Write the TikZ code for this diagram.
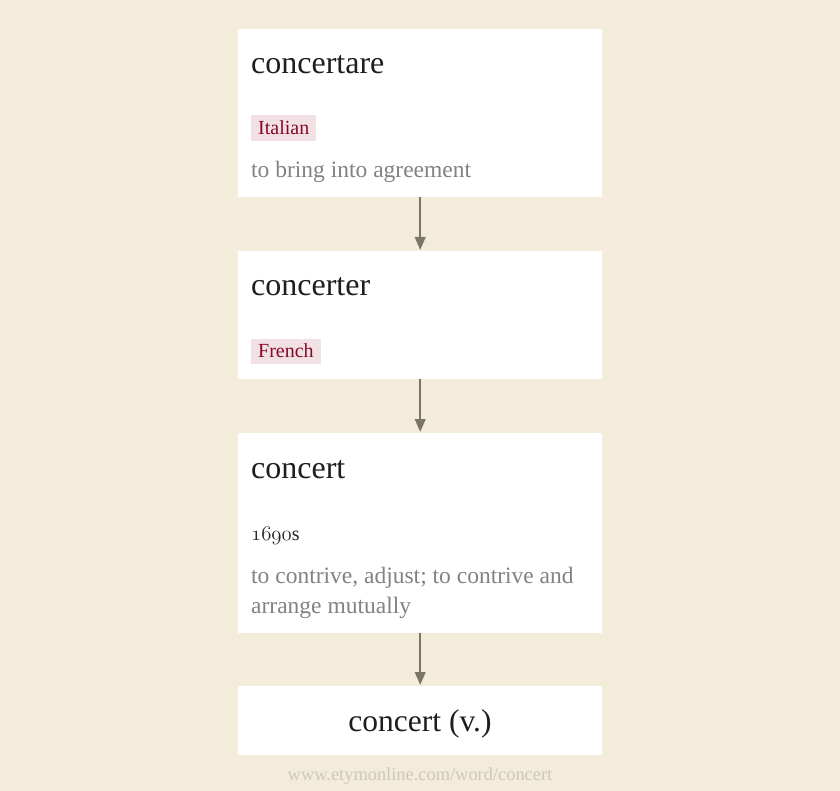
\documentclass[tikz,border=0pt]{standalone}
\usepackage{fontspec}
\setmainfont{Liberation Serif}
\usetikzlibrary{arrows.meta}
\definecolor{bgc}{RGB}{243,236,218}
\definecolor{titlec}{RGB}{30,30,30}
\definecolor{tagbg}{RGB}{241,225,228}
\definecolor{tagtx}{RGB}{135,8,38}
\definecolor{defc}{RGB}{130,130,130}
\definecolor{datec}{RGB}{35,35,35}
\definecolor{arrc}{RGB}{122,117,100}
\definecolor{footc}{RGB}{205,200,188}
\newcommand\myosn[1]{{\usefont{OML}{cmm}{m}{it}#1}}
\tikzset{
  card/.style={fill=white, draw=none, minimum width=364pt, anchor=north west, inner sep=0pt},
  wordtitle/.style={anchor=base west, inner sep=0pt, text=titlec, font=\fontsize{32}{36}\selectfont},
  langtag/.style={anchor=south west, fill=tagbg, text=tagtx, inner xsep=7pt, inner ysep=0pt,
     text height=19.3pt, text depth=6pt, font=\fontsize{20}{24}\selectfont},
  defn/.style={anchor=base west, inner sep=0pt, text=defc, font=\fontsize{23.5}{30}\selectfont},
  datelbl/.style={anchor=base west, inner sep=0pt, text=datec, font=\fontsize{20}{24}\selectfont},
  conn/.style={draw=arrc, line width=2.3pt, -{Triangle[length=13pt,width=10.5pt]}, shorten >=1pt},
}
\begin{document}
\begin{tikzpicture}[x=1pt,y=-1pt]
\fill[bgc] (0,0) rectangle (840,791);
\useasboundingbox (0,0) rectangle (840,791);
% cards
\node[card, minimum height=168pt] (b1) at (238,29) {};
\node[card, minimum height=128pt] (b2) at (238,251) {};
\node[card, minimum height=200pt] (b3) at (238,433) {};
\node[card, minimum height=69pt] (b4) at (238,686) {};
% card 1
\node[wordtitle] (t1) at (251,74) {concertare};
\node[langtag] (l1) at (251,141) {Italian};
\node[defn] (d1) at (251,178) {to bring into agreement};
% card 2
\node[wordtitle] (t2) at (251,296) {concerter};
\node[langtag] (l2) at (251,364) {French};
% card 3
\node[wordtitle] (t3) at (251,478) {concert};
\node[datelbl] (y3) at (251,540) {\myosn{1690}s};
\node[defn] (d3a) at (251,583) {to contrive, adjust; to contrive and};
\node[defn] (d3b) at (251,613) {arrange mutually};
% card 4
\node[anchor=base, inner sep=0pt, text=titlec, font=\fontsize{31.5}{36}\selectfont] (t4) at (420,731) {concert (v.)};
% footer
\node[anchor=base, inner sep=0pt, text=footc, font=\fontsize{18.4}{22}\selectfont] (foot) at (420,780) {www.etymonline.com/word/concert};
% connectors
\draw[conn] (b1.south) -- (b2.north);
\draw[conn] (b2.south) -- (b3.north);
\draw[conn] (b3.south) -- (b4.north);
\end{tikzpicture}
\end{document}
